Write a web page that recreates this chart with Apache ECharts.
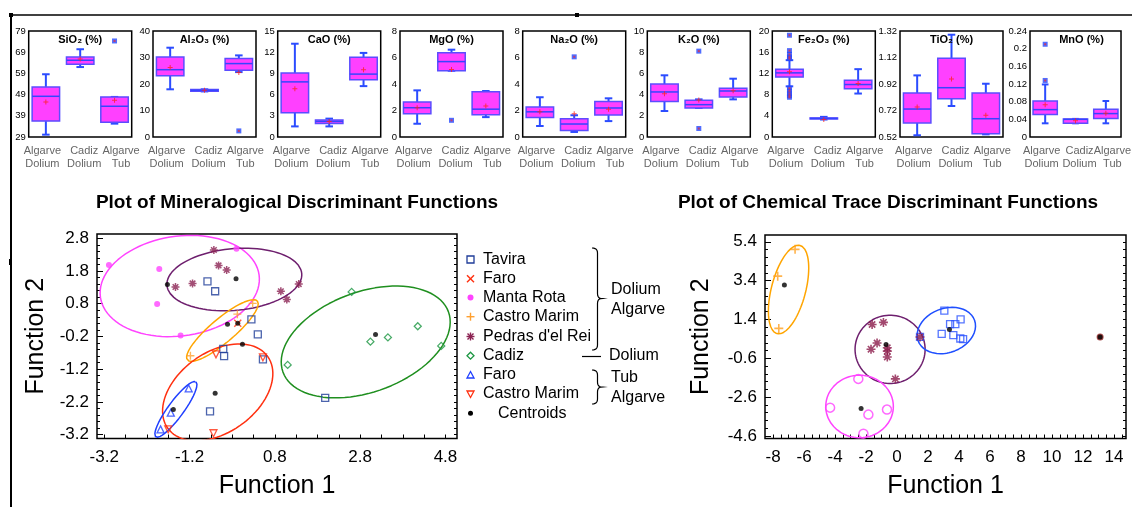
<!DOCTYPE html>
<html><head><meta charset="utf-8">
<script src="https://cdn.jsdelivr.net/npm/echarts@6/dist/echarts.min.js"></script>
<style>html,body{margin:0;padding:0;background:#fff}#c{width:1132px;height:507px}</style>
</head><body><div id="c"></div>
<script>
// ---------------- DATA ----------------
const boxCategories = ['Algarve\nDolium', 'Cadiz\nDolium', 'Algarve\nTub'];
const oxideNames = ['SiO₂ (%)', 'Al₂O₃ (%)', 'CaO (%)', 'MgO (%)', 'Na₂O (%)', 'K₂O (%)', 'Fe₂O₃ (%)', 'TiO₂ (%)', 'MnO (%)'];
const oxideMin = [29, 0, 0, 0, 0, 0, 0, 0.52, 0];
const oxideMax = [79, 40, 15, 8, 8, 10, 20, 1.32, 0.24];
const oxideTicks = [
  [29, 39, 49, 59, 69, 79], [0, 10, 20, 30, 40], [0, 3, 6, 9, 12, 15], [0, 2, 4, 6, 8], [0, 2, 4, 6, 8],
  [0, 2, 4, 6, 8, 10], [0, 4, 8, 12, 16, 20], [0.52, 0.72, 0.92, 1.12, 1.32], [0, 0.04, 0.08, 0.12, 0.16, 0.2, 0.24]
];
const oxideMinorStep = [2, 2, 0.6, 0.4, 0.4, 0.4, 0.8, 0.04, 0.008];

// [low whisker, Q1, median, Q3, high whisker] for Algarve Dolium, Cadiz Dolium, Algarve Tub
const sio2Box = [[30.1, 36.5, 48.2, 52.6, 58.6], [62.0, 63.3, 65.2, 66.7, 70.4], [35.3, 35.9, 43.5, 47.9, 47.9]];
const al2o3Box = [[18.0, 23.1, 25.4, 30.2, 33.7], [17.2, 17.3, 17.6, 17.9, 18.0], [24.5, 25.2, 27.7, 29.6, 30.8]];
const caoBox = [[1.5, 3.44, 7.8, 9.06, 13.2], [1.5, 1.9, 2.2, 2.4, 2.6], [7.2, 8.1, 8.9, 11.3, 11.9]];
const mgoBox = [[1.0, 1.76, 2.21, 2.64, 3.52], [5.0, 5.0, 5.69, 6.36, 6.59], [1.5, 1.68, 2.1, 3.42, 3.47]];
const na2oBox = [[0.83, 1.48, 1.9, 2.26, 3.0], [0.38, 0.5, 0.98, 1.38, 1.64], [1.2, 1.66, 2.19, 2.67, 2.92]];
const k2oBox = [[2.45, 3.36, 4.25, 5.0, 5.82], [2.74, 2.74, 3.05, 3.46, 3.55], [3.55, 3.77, 4.34, 4.6, 5.5]];
const fe2o3Box = [[9.56, 11.3, 12.1, 12.8, 14.5], [3.3, 3.4, 3.5, 3.6, 3.8], [8.2, 9.1, 9.9, 10.7, 12.8]];
const tio2Box = [[0.533, 0.626, 0.731, 0.852, 0.985], [0.754, 0.809, 0.892, 1.114, 1.292], [0.54, 0.545, 0.658, 0.852, 0.922]];
const mnoBox = [[0.031, 0.051, 0.062, 0.0815, 0.119], [0.031, 0.031, 0.04, 0.041, 0.041], [0.031, 0.042, 0.053, 0.063, 0.0815]];

const sio2Mean = [45.5, 65.8, 46.3];
const al2o3Mean = [26.2, 17.6, 24.3];
const caoMean = [6.84, 2.2, 9.5];
const mgoMean = [2.2, 5.1, 2.34];
const na2oMean = [1.9, 1.76, 2.1];
const k2oMean = [4.09, 3.5, 4.37];
const fe2o3Mean = [12.3, 3.3, 10.1];
const tio2Mean = [0.746, 0.958, 0.684];
const mnoMean = [0.073, 0.037, 0.054];

// outliers: [category index, value]
const sio2Out = [[2, 74.3]];
const al2o3Out = [[2, 2.3]];
const caoOut = [];
const mgoOut = [[1, 1.26]];
const na2oOut = [[1, 6.05]];
const k2oOut = [[1, 8.1], [1, 0.8]];
const fe2o3Out = [[0, 19.2], [0, 16.3], [0, 15.6], [0, 15.1], [0, 14.8], [0, 9.2], [0, 8.7], [0, 8.2], [0, 7.8], [0, 7.5]];
const tio2Out = [];
const mnoOut = [[0, 0.21], [0, 0.128]];

// Mineralogical discriminant functions (Function 1, Function 2)
const mTavira = [[-0.78, 1.48], [-0.60, 1.18], [0.25, 0.32], [0.40, -0.14], [-0.41, -0.58], [-0.39, -0.80], [0.52, -0.90], [1.98, -2.08], [-0.72, -2.49]];
const mFaroDolium = [[-0.07, 0.20]];
const mMantaRota = [[-3.09, 1.98], [-1.91, 1.86], [-1.96, 0.79], [-1.41, -0.17], [-0.10, 2.48]];
const mCastroDolium = [[-0.08, 0.48], [-1.18, -0.79], [0.28, 0.81]];
const mPedras = [[-0.63, 2.44], [-0.52, 1.97], [-0.33, 1.83], [-1.53, 1.31], [-1.13, 1.42], [0.94, 1.18], [1.08, 0.93], [1.36, 1.40]];
const mCadiz = [[2.60, 1.16], [4.15, 0.11], [3.45, -0.23], [3.04, -0.36], [4.70, -0.49], [1.10, -1.07]];
const mFaroTub = [[-1.22, -1.79], [-1.64, -2.53], [-1.88, -3.04]];
const mCastroTub = [[-0.58, -0.75], [0.52, -0.84], [-0.64, -3.16], [-1.70, -3.04]];
const mCentroids = [[-1.72, 1.39], [-0.11, 1.56], [-0.31, 0.17], [-0.07, 0.20], [0.04, -0.44], [3.16, -0.14], [-0.60, -1.94], [-1.58, -2.43]];
// ellipses: centre, semi-axis vector u, semi-axis vector v
const mEllMantaRota = [[-1.43, 1.34], [1.86, 0.34], [0.16, -1.51]];
const mEllPedras = [[-0.15, 1.54], [1.58, 0.18], [0.06, -0.94]];
const mEllCastroDolium = [[-0.43, -0.02], [0.82, 0.90], [0.18, -0.28]];
const mEllCastroTub = [[-0.54, -1.91], [1.17, 1.10], [0.55, -0.99]];
const mEllFaroTub = [[-1.52, -2.43], [0.47, 0.84], [0.15, -0.14]];
const mEllCadiz = [[2.93, -0.37], [1.94, 0.92], [0.40, -1.44]];
const mXLabels = [-3.2, -1.2, 0.8, 2.8, 4.8];
const mYLabels = [-3.2, -2.2, -1.2, -0.2, 0.8, 1.8, 2.8];

// Chemical trace discriminant functions
const cOrange = [[-6.58, 5.01], [-7.70, 3.63], [-7.63, 0.94]];
const cPurple = [[-1.61, 1.14], [-0.88, 1.25], [-1.29, 0.19], [-1.68, -0.13], [-0.63, -0.06], [-0.63, -0.23], [-0.63, -0.53], [-0.11, -1.66], [1.48, 0.50]];
const cBlue = [[3.05, 1.86], [4.10, 1.40], [3.42, 1.16], [3.76, 1.16], [2.88, 0.66], [3.63, 0.59], [4.08, 0.42], [4.26, 0.39], [1.48, 0.50]];
const cMagenta = [[-2.50, -1.66], [-4.32, -3.14], [-1.85, -3.50], [-0.65, -3.24], [-2.17, -4.48]];
const cSingle = [[13.1, 0.50]];
const cCentroids = [[-7.27, 3.17], [-0.71, 0.11], [3.38, 0.88], [-2.32, -3.19], [13.1, 0.50]];
const cEllOrange = [[-7.0, 2.94], [0.74, 2.27], [1.07, -0.22]];
const cEllPurple = [[-0.45, -0.14], [2.26, 0], [0, -1.76]];
const cEllBlue = [[3.18, 0.83], [1.82, 0.53], [0.48, -1.07]];
const cEllMagenta = [[-2.42, -3.08], [2.18, 0], [0, -1.61]];
const cXLabels = [-8, -6, -4, -2, 0, 2, 4, 6, 8, 10, 12, 14];
const cYLabels = [-4.6, -2.6, -0.6, 1.4, 3.4, 5.4];

const legendNames = ['Tavira', 'Faro', 'Manta Rota', 'Castro Marim', "Pedras d'el Rei", 'Cadiz', 'Faro', 'Castro Marim', 'Centroids'];

// ---------------- BUILD ----------------
const FONT = '"Liberation Sans", Arial, Helvetica, sans-serif';
function range(a, b, s) { const r = []; for (let v = a; v <= b + 1e-9; v += s) r.push(Math.round(v * 10000) / 10000); return r; }
function ellipse(e) {
  const [c, u, v] = e, pts = [];
  for (let k = 0; k <= 90; k++) { const t = k / 90 * 2 * Math.PI; pts.push([c[0] + u[0] * Math.cos(t) + v[0] * Math.sin(t), c[1] + u[1] * Math.cos(t) + v[1] * Math.sin(t)]); }
  return pts;
}
const PLUS = 'path://M0,5L10,5M5,0L5,10';
const CROSS = 'path://M0,0L10,10M10,0L0,10';
const STAR = 'path://M5,0L5,10M0,5L10,5M1.5,1.5L8.5,8.5M8.5,1.5L1.5,8.5';
const MEAN_PLUS = 'path://M4,0L6,0L6,4L10,4L10,6L6,6L6,10L4,10L4,6L0,6L0,4L4,4Z';

const boxStats = [sio2Box, al2o3Box, caoBox, mgoBox, na2oBox, k2oBox, fe2o3Box, tio2Box, mnoBox];
const boxMeans = [sio2Mean, al2o3Mean, caoMean, mgoMean, na2oMean, k2oMean, fe2o3Mean, tio2Mean, mnoMean];
const boxOut = [sio2Out, al2o3Out, caoOut, mgoOut, na2oOut, k2oOut, fe2o3Out, tio2Out, mnoOut];
const panelLeft = [28.7, 153, 277.7, 400, 522.7, 647.3, 772.3, 900, 1030];

function renderBox(params, api) {
  const c = api.value(0);
  const p = [1, 2, 3, 4, 5].map(k => api.coord([c, api.value(k)]));
  const band = api.size([1, 0])[0];
  const x = p[0][0], hw = band * 0.4, cw = band * 0.11;
  const wl = { stroke: '#2b4cff', lineWidth: 2 };
  return { type: 'group', children: [
    { type: 'line', shape: { x1: x, y1: p[4][1], x2: x, y2: p[3][1] }, style: wl },
    { type: 'line', shape: { x1: x, y1: p[0][1], x2: x, y2: p[1][1] }, style: wl },
    { type: 'line', shape: { x1: x - cw, y1: p[4][1], x2: x + cw, y2: p[4][1] }, style: wl },
    { type: 'line', shape: { x1: x - cw, y1: p[0][1], x2: x + cw, y2: p[0][1] }, style: wl },
    { type: 'rect', shape: { x: x - hw, y: p[3][1], width: 2 * hw, height: Math.max(1, p[1][1] - p[3][1]) }, style: { fill: '#ff40ff', stroke: '#5b4dff', lineWidth: 1.5 } },
    { type: 'line', shape: { x1: x - hw, y1: p[2][1], x2: x + hw, y2: p[2][1] }, style: { stroke: '#3545ff', lineWidth: 1.5 } }
  ] };
}

const grids = [], xAxes = [], yAxes = [], series = [], graphics = [];
const catRich = {};
[[0, 7, 0, 0], [0, 0, 0, 8], [0, 0, 0, 13]].forEach((pad, k) => {
  catRich['c' + k] = { fontSize: 11, lineHeight: 13, color: '#666', fontFamily: FONT, padding: pad };
});

panelLeft.forEach((L, i) => {
  grids.push({ left: L, top: 31, width: 103, height: 106, show: true, borderColor: '#000', borderWidth: 1.5, backgroundColor: 'transparent' });
  const xi = xAxes.length;
  xAxes.push({ type: 'category', gridIndex: i, data: boxCategories, axisLine: { show: false, onZero: false }, axisTick: { show: false },
    axisLabel: { margin: 7, interval: 0, formatter: (v, idx) => v.split('\n').map(s => `{c${idx}|${s}}`).join('\n'), rich: catRich } });
  const yi = yAxes.length;
  yAxes.push({ type: 'value', gridIndex: i, min: oxideMin[i], max: oxideMax[i], splitLine: { show: false }, axisLine: { show: false, onZero: false },
    axisLabel: { customValues: oxideTicks[i], fontSize: 9.5, color: '#000', margin: 3, fontFamily: FONT },
    axisTick: { customValues: oxideTicks[i], inside: true, length: 4, lineStyle: { color: '#000' } } });
  yAxes.push({ type: 'value', gridIndex: i, position: 'right', min: oxideMin[i], max: oxideMax[i], splitLine: { show: false }, axisLine: { show: false, onZero: false },
    axisLabel: { show: false },
    axisTick: { customValues: range(oxideMin[i], oxideMax[i], oxideMinorStep[i]), inside: true, length: 2, lineStyle: { color: '#000' } } });
  series.push({ type: 'custom', xAxisIndex: xi, yAxisIndex: yi, renderItem: renderBox, silent: true, z: 3,
    encode: { x: 0, y: [1, 2, 3, 4, 5] }, data: boxStats[i].map((s, k) => [k].concat(s)) });
  series.push({ type: 'scatter', xAxisIndex: xi, yAxisIndex: yi, silent: true, z: 5, symbol: 'rect', symbolSize: 5,
    itemStyle: { color: '#2448ff' }, data: boxOut[i] });
  series.push({ type: 'scatter', xAxisIndex: xi, yAxisIndex: yi, silent: true, z: 6, symbol: 'rect', symbolSize: 2,
    itemStyle: { color: '#e0304a' }, data: boxOut[i] });
  series.push({ type: 'scatter', xAxisIndex: xi, yAxisIndex: yi, silent: true, z: 6, symbol: MEAN_PLUS, symbolSize: 5,
    itemStyle: { color: '#ff2020' }, data: boxMeans[i].map((m, k) => [k, m]) });
  graphics.push({ type: 'text', x: L + 51.5, y: 40, z: 10, style: { text: oxideNames[i], fontSize: 11, fontWeight: 'bold', fontFamily: FONT, fill: '#000', align: 'center', verticalAlign: 'middle' } });
});

// scatter grids
function scatterGrid(gi, rect, xmin, xmax, ymin, ymax, xLabels, xMinor, yLabels, yMinor, nameGapY) {
  grids.push(Object.assign({ show: true, borderColor: '#000', borderWidth: 1.5, backgroundColor: 'transparent' }, rect));
  const xi = xAxes.length;
  xAxes.push({ type: 'value', gridIndex: gi, position: 'bottom', min: xmin, max: xmax, splitLine: { show: false }, axisLine: { show: false, onZero: false },
    axisLabel: { customValues: xLabels, fontSize: 17, color: '#000', margin: 10, fontFamily: FONT },
    axisTick: { customValues: xMinor, inside: true, length: 4, lineStyle: { color: '#000' } },
    name: 'Function 1', nameLocation: 'middle', nameGap: 35, nameTextStyle: { fontSize: 25, color: '#000', fontFamily: FONT } });
  const yi = yAxes.length;
  yAxes.push({ type: 'value', gridIndex: gi, position: 'left', min: ymin, max: ymax, splitLine: { show: false }, axisLine: { show: false, onZero: false },
    axisLabel: { customValues: yLabels, fontSize: 17, color: '#000', margin: 8, fontFamily: FONT },
    axisTick: { customValues: yLabels, inside: true, length: 6, lineStyle: { color: '#000' } },
    name: 'Function 2', nameLocation: 'middle', nameGap: nameGapY, nameRotate: 90, nameTextStyle: { fontSize: 25, color: '#000', fontFamily: FONT } });
  yAxes.push({ type: 'value', gridIndex: gi, position: 'left', min: ymin, max: ymax, splitLine: { show: false }, axisLine: { show: false, onZero: false },
    axisLabel: { show: false }, axisTick: { customValues: yMinor, inside: true, length: 3, lineStyle: { color: '#000' } } });
  yAxes.push({ type: 'value', gridIndex: gi, position: 'right', min: ymin, max: ymax, splitLine: { show: false }, axisLine: { show: false, onZero: false },
    axisLabel: { show: false }, axisTick: { customValues: yMinor, inside: true, length: 3, lineStyle: { color: '#000' } } });
  return [xi, yi];
}
const [mxi, myi] = scatterGrid(9, { left: 97, top: 234, width: 360, height: 204.5 }, -3.37, 5.07, -3.32, 2.93,
  mXLabels, range(-3.2, 4.8, 0.5), mYLabels, range(-3.2, 2.8, 0.2), 48);
const [cxi, cyi] = scatterGrid(10, { left: 765, top: 235, width: 361, height: 203.5 }, -8.52, 14.77, -4.73, 5.75,
  cXLabels, range(-8, 14.5, 0.5), cYLabels, range(-4.6, 5.4, 0.4), 51);

function ell(e, color, xi, yi) {
  series.push({ type: 'line', xAxisIndex: xi, yAxisIndex: yi, data: ellipse(e), showSymbol: false, silent: true, z: 2,
    lineStyle: { color: color, width: 1.5 }, smooth: false });
}
function pts(data, xi, yi, symbol, size, fill, stroke, lw, extra) {
  series.push(Object.assign({ type: 'scatter', xAxisIndex: xi, yAxisIndex: yi, data: data, symbol: symbol, symbolSize: size, silent: true, z: 4,
    itemStyle: { color: fill, borderColor: stroke, borderWidth: lw } }, extra || {}));
}
// mineralogical
ell(mEllMantaRota, '#ff44ff', mxi, myi);
ell(mEllPedras, '#6e1f6e', mxi, myi);
ell(mEllCastroDolium, '#ffa500', mxi, myi);
ell(mEllCastroTub, '#ff3010', mxi, myi);
ell(mEllFaroTub, '#1f3fff', mxi, myi);
ell(mEllCadiz, '#1f8f1f', mxi, myi);
pts(mTavira, mxi, myi, 'rect', 7, 'none', '#1f3d99', 1.3);
pts(mMantaRota, mxi, myi, 'circle', 6, '#ff44ff', '#ff44ff', 0);
pts(mCastroDolium, mxi, myi, PLUS, 8, 'none', '#ffa030', 1.4);
pts(mPedras, mxi, myi, STAR, 8, 'none', '#8b2252', 1.5);
pts(mCadiz, mxi, myi, 'diamond', 7, 'none', '#1a9641', 1.3);
pts(mFaroTub, mxi, myi, 'triangle', 7, 'none', '#1f3fff', 1.3);
pts(mCastroTub, mxi, myi, 'triangle', 7, 'none', '#ff3010', 1.3, { symbolRotate: 180 });
pts(mFaroDolium, mxi, myi, CROSS, 7, 'none', '#ff3010', 1.4);
pts(mCentroids, mxi, myi, 'circle', 5, '#000', '#000', 0, { z: 6 });
// chemical
ell(cEllOrange, '#ffa500', cxi, cyi);
ell(cEllPurple, '#6e1f6e', cxi, cyi);
ell(cEllBlue, '#1f4fff', cxi, cyi);
ell(cEllMagenta, '#ff44ff', cxi, cyi);
pts(cOrange, cxi, cyi, PLUS, 9, 'none', '#ffa020', 1.6);
pts(cBlue, cxi, cyi, 'rect', 7, 'none', '#2a52ff', 1.3);
pts(cPurple, cxi, cyi, STAR, 9, 'none', '#8b1a4a', 1.6);
pts(cMagenta, cxi, cyi, 'circle', 9, 'none', '#ff44ff', 1.5);
pts(cSingle, cxi, cyi, 'circle', 7, '#8b1c1c', '#8b1c1c', 0);
pts(cCentroids, cxi, cyi, 'circle', 5, '#000', '#000', 0, { z: 6 });

// ---------------- GRAPHICS (titles, legend, braces, frame) ----------------
const T = (x, y, text, size, opts) => graphics.push({ type: 'text', x: x, y: y, z: 10, style: Object.assign({ text: text, fontSize: size, fontFamily: FONT, fill: '#000', verticalAlign: 'middle' }, opts || {}) });
const L = (x1, y1, x2, y2, stroke, lw) => graphics.push({ type: 'line', z: 10, shape: { x1, y1, x2, y2 }, style: { stroke: stroke, lineWidth: lw || 1.3 } });
const PG = (points, stroke, fill, lw) => graphics.push({ type: 'polygon', z: 10, shape: { points }, style: { stroke: stroke, fill: fill || 'none', lineWidth: lw || 1.3 } });
const PL = (points, stroke, lw) => graphics.push({ type: 'polyline', z: 10, shape: { points }, style: { stroke: stroke, fill: 'none', lineWidth: lw || 1.2 } });

T(297, 203, 'Plot of Mineralogical Discriminant Functions', 19, { fontWeight: 'bold', align: 'center' });
T(888, 203, 'Plot of Chemical Trace Discriminant Functions', 19, { fontWeight: 'bold', align: 'center' });

const legY = [259.5, 278.7, 297.5, 316.7, 336.5, 355.7, 375, 394, 413.3];
legendNames.forEach((n, k) => T(k === 8 ? 498 : 483, legY[k], n, 16));
const lx = 470.5;
PG([[lx - 3.5, legY[0] - 3.5], [lx + 3.5, legY[0] - 3.5], [lx + 3.5, legY[0] + 3.5], [lx - 3.5, legY[0] + 3.5]], '#1f3d99');
L(lx - 3.5, legY[1] - 3.5, lx + 3.5, legY[1] + 3.5, '#ff3010', 1.4); L(lx + 3.5, legY[1] - 3.5, lx - 3.5, legY[1] + 3.5, '#ff3010', 1.4);
graphics.push({ type: 'circle', z: 10, shape: { cx: lx, cy: legY[2], r: 3 }, style: { fill: '#ff44ff' } });
L(lx - 4, legY[3], lx + 4, legY[3], '#ffa030', 1.4); L(lx, legY[3] - 4, lx, legY[3] + 4, '#ffa030', 1.4);
L(lx, legY[4] - 4, lx, legY[4] + 4, '#8b2252', 1.4); L(lx - 4, legY[4], lx + 4, legY[4], '#8b2252', 1.4);
L(lx - 3, legY[4] - 3, lx + 3, legY[4] + 3, '#8b2252', 1.4); L(lx + 3, legY[4] - 3, lx - 3, legY[4] + 3, '#8b2252', 1.4);
PG([[lx, legY[5] - 3.5], [lx + 3.5, legY[5]], [lx, legY[5] + 3.5], [lx - 3.5, legY[5]]], '#1a9641');
PG([[lx, legY[6] - 3.5], [lx + 3.5, legY[6] + 3], [lx - 3.5, legY[6] + 3]], '#1f3fff');
PG([[lx, legY[7] + 3.5], [lx + 3.5, legY[7] - 3], [lx - 3.5, legY[7] - 3]], '#ff3010');
graphics.push({ type: 'circle', z: 10, shape: { cx: lx, cy: legY[8], r: 2.5 }, style: { fill: '#000' } });

// braces (quadratic corners sampled into polylines)
function quad(p0, p1, p2) { const r = []; for (let k = 0; k <= 6; k++) { const t = k / 6; r.push([(1 - t) * (1 - t) * p0[0] + 2 * (1 - t) * t * p1[0] + t * t * p2[0], (1 - t) * (1 - t) * p0[1] + 2 * (1 - t) * t * p1[1] + t * t * p2[1]]); } return r; }
function brace(x0, xm, xt, y0, ym, y1) {
  return [].concat(quad([x0, y0], [xm, y0], [xm, y0 + 5]), quad([xm, ym - 5], [xm, ym], [xt, ym]),
    quad([xt, ym], [xm, ym], [xm, ym + 5]), quad([xm, y1 - 5], [xm, y1], [x0, y1]));
}
PL(brace(592, 597.5, 602, 248, 298.5, 350), '#000');
PL(brace(592, 597.5, 602, 370, 387, 404), '#000');
L(582, 356.5, 601, 356.5, '#000', 1.2);
T(611, 290, 'Dolium', 16); T(611, 310, 'Algarve', 16);
T(609, 356, 'Dolium', 16);
T(611, 377.7, 'Tub', 16); T(611, 397.3, 'Algarve', 16);

// figure frame
L(11, 15, 1132, 15, '#000', 1.5);
L(11, 15, 11, 507, '#000', 2);
graphics.push({ type: 'rect', z: 10, shape: { x: 9, y: 13, width: 4, height: 4 }, style: { fill: '#000' } });
graphics.push({ type: 'rect', z: 10, shape: { x: 575, y: 13, width: 4, height: 4 }, style: { fill: '#000' } });
graphics.push({ type: 'rect', z: 10, shape: { x: 9, y: 259, width: 3, height: 6 }, style: { fill: '#000' } });

const chart = echarts.init(document.getElementById('c'), null, { renderer: 'canvas' });
chart.setOption({
  animation: false,
  backgroundColor: '#fff',
  textStyle: { fontFamily: FONT },
  grid: grids, xAxis: xAxes, yAxis: yAxes, series: series, graphic: graphics
});
</script></body></html>
